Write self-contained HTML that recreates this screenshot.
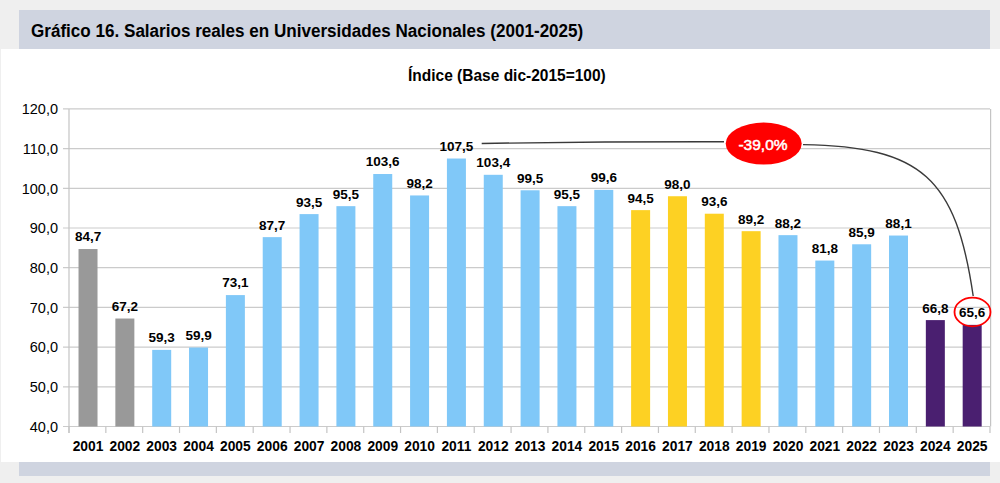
<!DOCTYPE html>
<html><head><meta charset="utf-8"><style>
html,body{margin:0;padding:0;}
body{width:1000px;height:483px;background:#efefef;position:relative;overflow:hidden;font-family:"Liberation Sans",sans-serif;}
.white{position:absolute;left:1px;top:49px;width:999px;height:413px;background:#fff;}
.hdr{position:absolute;left:19px;top:10px;width:971px;height:39px;background:#cfd4e0;}
.ftr{position:absolute;left:19px;top:462px;width:971px;height:14px;background:#cfd4e0;}
.title{position:absolute;left:31px;top:20px;font-weight:bold;font-size:18.8px;transform:scaleX(0.909);transform-origin:0 0;color:#000;white-space:nowrap;}
.sub{position:absolute;left:408px;top:65.8px;font-weight:bold;font-size:17px;transform:scaleX(0.912);transform-origin:0 0;color:#000;white-space:nowrap;}
svg{position:absolute;left:0;top:0;}
.yl{font-size:14.5px;fill:#000;}
.vl{font-size:13.5px;font-weight:bold;fill:#000;}
.xl{font-size:13.8px;font-weight:bold;fill:#000;}
.pl{font-size:15.5px;fill:#fff;stroke:#fff;stroke-width:0.5px;}
</style></head><body>
<div class="white"></div>
<div class="hdr"></div>
<div class="ftr"></div>
<div class="title">Gráfico 16. Salarios reales en Universidades Nacionales (2001-2025)</div>
<div class="sub">Índice (Base dic-2015=100)</div>
<svg width="1000" height="483" viewBox="0 0 1000 483" font-family="Liberation Sans, sans-serif">
<line x1="63" y1="426.50" x2="990.0" y2="426.50" stroke="#cbcbcb" stroke-width="1.2"/>
<text x="58" y="431.80" text-anchor="end" class="yl">40,0</text>
<line x1="63" y1="386.80" x2="990.0" y2="386.80" stroke="#cbcbcb" stroke-width="1.2"/>
<text x="58" y="392.10" text-anchor="end" class="yl">50,0</text>
<line x1="63" y1="347.10" x2="990.0" y2="347.10" stroke="#cbcbcb" stroke-width="1.2"/>
<text x="58" y="352.40" text-anchor="end" class="yl">60,0</text>
<line x1="63" y1="307.40" x2="990.0" y2="307.40" stroke="#cbcbcb" stroke-width="1.2"/>
<text x="58" y="312.70" text-anchor="end" class="yl">70,0</text>
<line x1="63" y1="267.70" x2="990.0" y2="267.70" stroke="#cbcbcb" stroke-width="1.2"/>
<text x="58" y="273.00" text-anchor="end" class="yl">80,0</text>
<line x1="63" y1="228.00" x2="990.0" y2="228.00" stroke="#cbcbcb" stroke-width="1.2"/>
<text x="58" y="233.30" text-anchor="end" class="yl">90,0</text>
<line x1="63" y1="188.30" x2="990.0" y2="188.30" stroke="#cbcbcb" stroke-width="1.2"/>
<text x="58" y="193.60" text-anchor="end" class="yl">100,0</text>
<line x1="63" y1="148.60" x2="990.0" y2="148.60" stroke="#cbcbcb" stroke-width="1.2"/>
<text x="58" y="153.90" text-anchor="end" class="yl">110,0</text>
<line x1="63" y1="108.90" x2="990.0" y2="108.90" stroke="#cbcbcb" stroke-width="1.2"/>
<text x="58" y="114.20" text-anchor="end" class="yl">120,0</text>
<line x1="69.0" y1="108.90" x2="69.0" y2="433" stroke="#c4c4c4" stroke-width="1.2"/>
<line x1="990.6" y1="108.90" x2="990.6" y2="426.5" stroke="#c4c4c4" stroke-width="1.2"/>
<line x1="69.00" y1="426.5" x2="69.00" y2="433" stroke="#c4c4c4" stroke-width="1.2"/>
<line x1="105.84" y1="426.5" x2="105.84" y2="433" stroke="#c4c4c4" stroke-width="1.2"/>
<line x1="142.68" y1="426.5" x2="142.68" y2="433" stroke="#c4c4c4" stroke-width="1.2"/>
<line x1="179.52" y1="426.5" x2="179.52" y2="433" stroke="#c4c4c4" stroke-width="1.2"/>
<line x1="216.36" y1="426.5" x2="216.36" y2="433" stroke="#c4c4c4" stroke-width="1.2"/>
<line x1="253.20" y1="426.5" x2="253.20" y2="433" stroke="#c4c4c4" stroke-width="1.2"/>
<line x1="290.04" y1="426.5" x2="290.04" y2="433" stroke="#c4c4c4" stroke-width="1.2"/>
<line x1="326.88" y1="426.5" x2="326.88" y2="433" stroke="#c4c4c4" stroke-width="1.2"/>
<line x1="363.72" y1="426.5" x2="363.72" y2="433" stroke="#c4c4c4" stroke-width="1.2"/>
<line x1="400.56" y1="426.5" x2="400.56" y2="433" stroke="#c4c4c4" stroke-width="1.2"/>
<line x1="437.40" y1="426.5" x2="437.40" y2="433" stroke="#c4c4c4" stroke-width="1.2"/>
<line x1="474.24" y1="426.5" x2="474.24" y2="433" stroke="#c4c4c4" stroke-width="1.2"/>
<line x1="511.08" y1="426.5" x2="511.08" y2="433" stroke="#c4c4c4" stroke-width="1.2"/>
<line x1="547.92" y1="426.5" x2="547.92" y2="433" stroke="#c4c4c4" stroke-width="1.2"/>
<line x1="584.76" y1="426.5" x2="584.76" y2="433" stroke="#c4c4c4" stroke-width="1.2"/>
<line x1="621.60" y1="426.5" x2="621.60" y2="433" stroke="#c4c4c4" stroke-width="1.2"/>
<line x1="658.44" y1="426.5" x2="658.44" y2="433" stroke="#c4c4c4" stroke-width="1.2"/>
<line x1="695.28" y1="426.5" x2="695.28" y2="433" stroke="#c4c4c4" stroke-width="1.2"/>
<line x1="732.12" y1="426.5" x2="732.12" y2="433" stroke="#c4c4c4" stroke-width="1.2"/>
<line x1="768.96" y1="426.5" x2="768.96" y2="433" stroke="#c4c4c4" stroke-width="1.2"/>
<line x1="805.80" y1="426.5" x2="805.80" y2="433" stroke="#c4c4c4" stroke-width="1.2"/>
<line x1="842.64" y1="426.5" x2="842.64" y2="433" stroke="#c4c4c4" stroke-width="1.2"/>
<line x1="879.48" y1="426.5" x2="879.48" y2="433" stroke="#c4c4c4" stroke-width="1.2"/>
<line x1="916.32" y1="426.5" x2="916.32" y2="433" stroke="#c4c4c4" stroke-width="1.2"/>
<line x1="953.16" y1="426.5" x2="953.16" y2="433" stroke="#c4c4c4" stroke-width="1.2"/>
<line x1="990.00" y1="426.5" x2="990.00" y2="433" stroke="#c4c4c4" stroke-width="1.2"/>
<rect x="78.52" y="249.04" width="19.0" height="177.46" fill="#999999"/>
<text x="88.02" y="241.44" text-anchor="middle" class="vl">84,7</text>
<text x="88.02" y="451" text-anchor="middle" class="xl">2001</text>
<rect x="115.36" y="318.52" width="19.0" height="107.98" fill="#999999"/>
<text x="124.86" y="310.92" text-anchor="middle" class="vl">67,2</text>
<text x="124.86" y="451" text-anchor="middle" class="xl">2002</text>
<rect x="152.20" y="349.88" width="19.0" height="76.62" fill="#80c8f8"/>
<text x="161.70" y="342.28" text-anchor="middle" class="vl">59,3</text>
<text x="161.70" y="451" text-anchor="middle" class="xl">2003</text>
<rect x="189.04" y="347.50" width="19.0" height="79.00" fill="#80c8f8"/>
<text x="198.54" y="339.90" text-anchor="middle" class="vl">59,9</text>
<text x="198.54" y="451" text-anchor="middle" class="xl">2004</text>
<rect x="225.88" y="295.09" width="19.0" height="131.41" fill="#80c8f8"/>
<text x="235.38" y="287.49" text-anchor="middle" class="vl">73,1</text>
<text x="235.38" y="451" text-anchor="middle" class="xl">2005</text>
<rect x="262.72" y="237.13" width="19.0" height="189.37" fill="#80c8f8"/>
<text x="272.22" y="229.53" text-anchor="middle" class="vl">87,7</text>
<text x="272.22" y="451" text-anchor="middle" class="xl">2006</text>
<rect x="299.56" y="214.10" width="19.0" height="212.40" fill="#80c8f8"/>
<text x="309.06" y="206.50" text-anchor="middle" class="vl">93,5</text>
<text x="309.06" y="451" text-anchor="middle" class="xl">2007</text>
<rect x="336.40" y="206.16" width="19.0" height="220.34" fill="#80c8f8"/>
<text x="345.90" y="198.56" text-anchor="middle" class="vl">95,5</text>
<text x="345.90" y="451" text-anchor="middle" class="xl">2008</text>
<rect x="373.24" y="174.01" width="19.0" height="252.49" fill="#80c8f8"/>
<text x="382.74" y="166.41" text-anchor="middle" class="vl">103,6</text>
<text x="382.74" y="451" text-anchor="middle" class="xl">2009</text>
<rect x="410.08" y="195.45" width="19.0" height="231.05" fill="#80c8f8"/>
<text x="419.58" y="187.85" text-anchor="middle" class="vl">98,2</text>
<text x="419.58" y="451" text-anchor="middle" class="xl">2010</text>
<rect x="446.92" y="158.52" width="19.0" height="267.98" fill="#80c8f8"/>
<text x="456.42" y="150.92" text-anchor="middle" class="vl">107,5</text>
<text x="456.42" y="451" text-anchor="middle" class="xl">2011</text>
<rect x="483.76" y="174.80" width="19.0" height="251.70" fill="#80c8f8"/>
<text x="493.26" y="167.20" text-anchor="middle" class="vl">103,4</text>
<text x="493.26" y="451" text-anchor="middle" class="xl">2012</text>
<rect x="520.60" y="190.28" width="19.0" height="236.22" fill="#80c8f8"/>
<text x="530.10" y="182.69" text-anchor="middle" class="vl">99,5</text>
<text x="530.10" y="451" text-anchor="middle" class="xl">2013</text>
<rect x="557.44" y="206.16" width="19.0" height="220.34" fill="#80c8f8"/>
<text x="566.94" y="198.56" text-anchor="middle" class="vl">95,5</text>
<text x="566.94" y="451" text-anchor="middle" class="xl">2014</text>
<rect x="594.28" y="189.89" width="19.0" height="236.61" fill="#80c8f8"/>
<text x="603.78" y="182.29" text-anchor="middle" class="vl">99,6</text>
<text x="603.78" y="451" text-anchor="middle" class="xl">2015</text>
<rect x="631.12" y="210.13" width="19.0" height="216.37" fill="#fdd123"/>
<text x="640.62" y="202.53" text-anchor="middle" class="vl">94,5</text>
<text x="640.62" y="451" text-anchor="middle" class="xl">2016</text>
<rect x="667.96" y="196.24" width="19.0" height="230.26" fill="#fdd123"/>
<text x="677.46" y="188.64" text-anchor="middle" class="vl">98,0</text>
<text x="677.46" y="451" text-anchor="middle" class="xl">2017</text>
<rect x="704.80" y="213.71" width="19.0" height="212.79" fill="#fdd123"/>
<text x="714.30" y="206.11" text-anchor="middle" class="vl">93,6</text>
<text x="714.30" y="451" text-anchor="middle" class="xl">2018</text>
<rect x="741.64" y="231.18" width="19.0" height="195.32" fill="#fdd123"/>
<text x="751.14" y="223.58" text-anchor="middle" class="vl">89,2</text>
<text x="751.14" y="451" text-anchor="middle" class="xl">2019</text>
<rect x="778.48" y="235.15" width="19.0" height="191.35" fill="#80c8f8"/>
<text x="787.98" y="227.55" text-anchor="middle" class="vl">88,2</text>
<text x="787.98" y="451" text-anchor="middle" class="xl">2020</text>
<rect x="815.32" y="260.55" width="19.0" height="165.95" fill="#80c8f8"/>
<text x="824.82" y="252.95" text-anchor="middle" class="vl">81,8</text>
<text x="824.82" y="451" text-anchor="middle" class="xl">2021</text>
<rect x="852.16" y="244.28" width="19.0" height="182.22" fill="#80c8f8"/>
<text x="861.66" y="236.68" text-anchor="middle" class="vl">85,9</text>
<text x="861.66" y="451" text-anchor="middle" class="xl">2022</text>
<rect x="889.00" y="235.54" width="19.0" height="190.96" fill="#80c8f8"/>
<text x="898.50" y="227.94" text-anchor="middle" class="vl">88,1</text>
<text x="898.50" y="451" text-anchor="middle" class="xl">2023</text>
<rect x="925.84" y="320.10" width="19.0" height="106.40" fill="#4a1f70"/>
<text x="935.34" y="312.50" text-anchor="middle" class="vl">66,8</text>
<text x="935.34" y="451" text-anchor="middle" class="xl">2024</text>
<rect x="962.68" y="324.87" width="19.0" height="101.63" fill="#4a1f70"/>
<text x="972.18" y="317.27" text-anchor="middle" class="vl">65,6</text>
<text x="972.18" y="451" text-anchor="middle" class="xl">2025</text>
<path d="M481.7,143.5 Q602,141.5 724,141.7" fill="none" stroke="#3a3a3a" stroke-width="1.4"/>
<path d="M803,144.6 C922.1,146.5 955.9,177.9 973.2,296" fill="none" stroke="#3a3a3a" stroke-width="1.4"/>
<ellipse cx="763.7" cy="143.6" rx="38" ry="21" fill="#ff0000"/>
<text x="763" y="150" text-anchor="middle" class="pl">-39,0%</text>
<ellipse cx="972.5" cy="312" rx="18.0" ry="14.3" fill="none" stroke="#ff0000" stroke-width="1.8"/>
</svg>
</body></html>
